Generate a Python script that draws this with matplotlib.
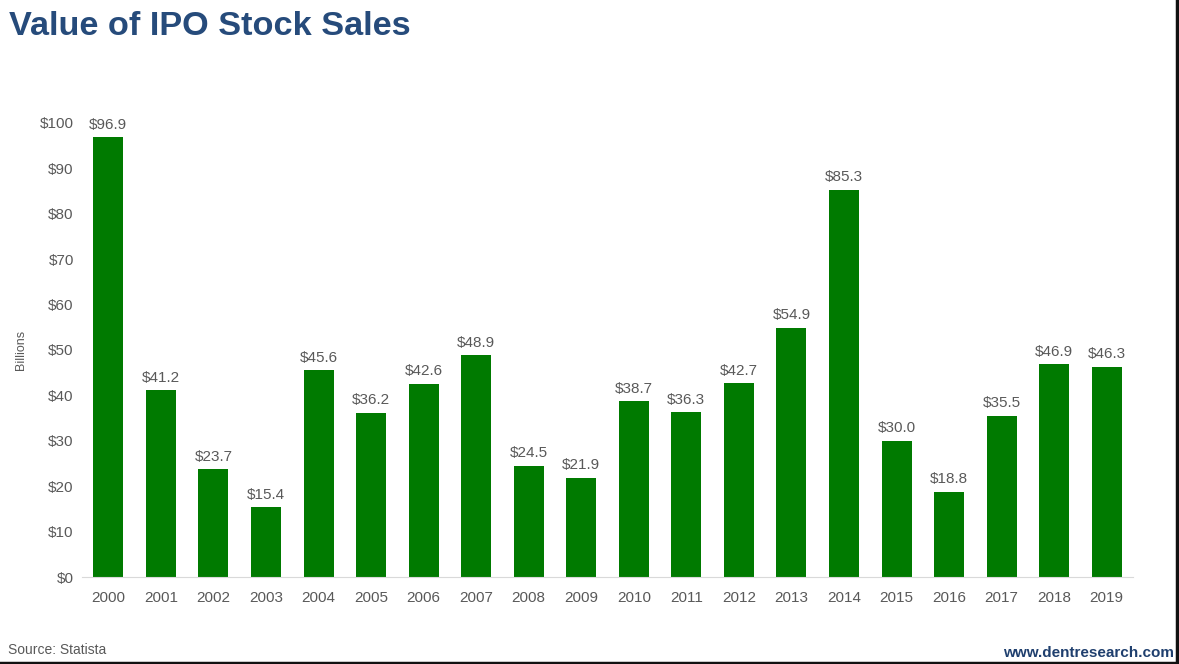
import matplotlib.pyplot as plt
from matplotlib.lines import Line2D

plt.rcParams['font.family'] = ['Liberation Sans', 'DejaVu Sans']

# Value of IPO stock sales, billions of dollars
years = [str(y) for y in range(2000, 2020)]
values = [96.9, 41.2, 23.7, 15.4, 45.6, 36.2, 42.6, 48.9, 24.5, 21.9,
          38.7, 36.3, 42.7, 54.9, 85.3, 30.0, 18.8, 35.5, 46.9, 46.3]
yticks = list(range(0, 101, 10))

fig = plt.figure(figsize=(11.79, 6.64), dpi=100)
ax = fig.add_axes([0.0696, 0.131, 0.8914, 0.6838])

x = range(len(years))
bars = ax.bar(x, values, width=0.57, color="#007A00")

for xi, v in zip(x, values):
    ax.text(xi, v + 1.2, f"${v:.1f}", ha="center", va="bottom",
            fontsize=11, color="#595959", clip_on=False)

ax.set_xlim(-0.5, len(years) - 0.5)
ax.set_ylim(0, 100)
ax.set_yticks(yticks)
ax.set_yticklabels([f"${t}" for t in yticks])
ax.set_xticks(list(x))
ax.set_xticklabels(years)
ax.tick_params(axis="both", length=0, labelsize=11, labelcolor="#595959")
ax.tick_params(axis="y", pad=6)
ax.tick_params(axis="x", pad=10)

for s in ["top", "right", "left"]:
    ax.spines[s].set_visible(False)
ax.spines["bottom"].set_color("#D9D9D9")

ax.set_ylabel("Billions", fontsize=9, color="#595959", labelpad=9)

fig.text(0.008, 0.96, "Value of IPO Stock Sales", fontsize=24.7, fontweight="bold",
         color="#264B7B", ha="left", va="center")
fig.text(0.007, 0.021, "Source: Statista", fontsize=10, color="#595959",
         ha="left", va="center")
fig.text(0.996, 0.016, "www.dentresearch.com", fontsize=11, fontweight="bold",
         color="#1F3F6E", ha="right", va="center")

# dark frame edges on right and bottom
fig.add_artist(Line2D([0.9985, 0.9985], [0, 1], transform=fig.transFigure,
                      color="#111111", linewidth=2.5))
fig.add_artist(Line2D([0, 1], [0.002, 0.002], transform=fig.transFigure,
                      color="#111111", linewidth=2.5))

fig.savefig("out.png", dpi=100)
